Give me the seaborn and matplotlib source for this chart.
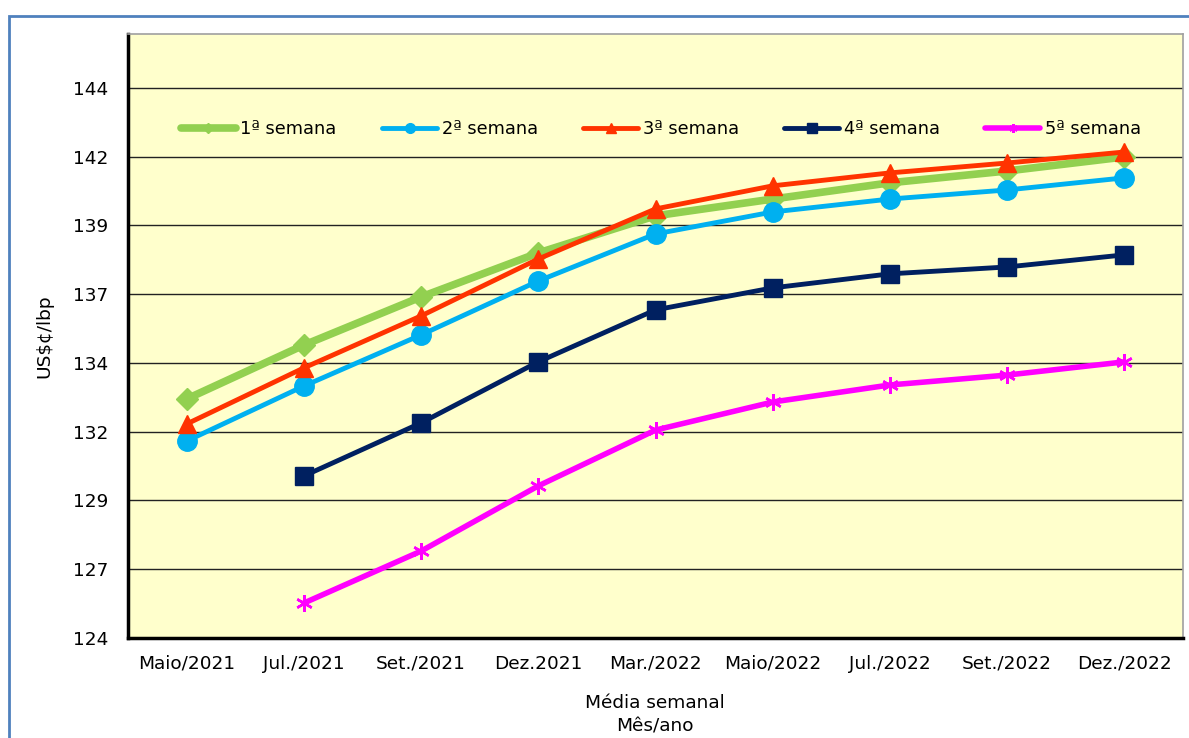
import numpy as np
import pandas as pd
import matplotlib.pyplot as plt
import seaborn as sns
from matplotlib.patches import Rectangle

# Data
months = ["Maio/2021", "Jul./2021", "Set./2021", "Dez.2021", "Mar./2022",
          "Maio/2022", "Jul./2022", "Set./2022", "Dez./2022"]
semana_1 = [133.09, 135.05, 136.80, 138.40, 139.75, 140.36, 140.95, 141.38, 141.89]
semana_2 = [131.56, 133.56, 135.42, 137.38, 139.09, 139.89, 140.36, 140.69, 141.13]
semana_3 = [132.18, 134.22, 136.11, 138.18, 140.00, 140.84, 141.31, 141.67, 142.07]
semana_4 = [np.nan, 130.29, 132.22, 134.44, 136.33, 137.13, 137.64, 137.89, 138.33]
semana_5 = [np.nan, 125.67, 127.56, 129.93, 131.96, 132.98, 133.60, 133.96, 134.44]
series_names = ["1ª semana", "2ª semana", "3ª semana", "4ª semana", "5ª semana"]
y_ticks = [124.4, 126.9, 129.4, 131.9, 134.4, 136.9, 139.4, 141.9, 144.4]
y_tick_labels = ["124", "127", "129", "132", "134", "137", "139", "142", "144"]

styles = {
    "1ª semana": dict(color="#92D050", marker="D", ms=11, lw=5.5),
    "2ª semana": dict(color="#00B0F0", marker="o", ms=14, lw=3.5),
    "3ª semana": dict(color="#FF3300", marker="^", ms=13, lw=3.5),
    "4ª semana": dict(color="#002060", marker="s", ms=13, lw=3.5),
    "5ª semana": dict(color="#FF00FF", marker=(6, 2, 0), ms=12, lw=4),
}


def build_frame():
    values = [semana_1, semana_2, semana_3, semana_4, semana_5]
    rows = []
    for name, vals in zip(series_names, values):
        for i, v in enumerate(vals):
            rows.append({"serie": name, "x": i, "valor": v})
    return pd.DataFrame(rows).dropna()


def plot_chart(df):
    sns.set_style("white")
    plt.rcParams['font.family'] = ['DejaVu Sans']
    plt.rcParams['text.color'] = 'black'
    plt.rcParams['axes.labelcolor'] = 'black'
    plt.rcParams['xtick.color'] = 'black'
    plt.rcParams['ytick.color'] = 'black'
    fig = plt.figure(figsize=(11.89, 7.38), dpi=100)
    ax = fig.add_axes([128 / 1189, 100 / 738, 1055 / 1189, 604 / 738])
    ax.set_facecolor("#FFFFCC")

    for name in series_names:
        st = styles[name]
        sub = df[df["serie"] == name]
        sns.lineplot(data=sub, x="x", y="valor", ax=ax, label=name,
                     color=st["color"], linewidth=st["lw"], marker=st["marker"],
                     markersize=st["ms"], markeredgecolor=st["color"],
                     markeredgewidth=1.8 if name == "5ª semana" else 1,
                     zorder=3)

    ax.set_xlim(-0.5, len(months) - 0.5)
    ax.set_ylim(124.4, 146.36)
    ax.set_xticks(range(len(months)))
    ax.set_xticklabels(months, fontsize=13.3)
    ax.set_xticks(np.arange(-0.5, len(months), 1.0), minor=True)
    ax.tick_params(axis="x", which="major", length=0, pad=12)
    ax.tick_params(axis="x", which="minor", direction="in", length=6, width=2, color="black")
    ax.set_yticks(y_ticks)
    ax.set_yticklabels(y_tick_labels, fontsize=13.3)
    ax.tick_params(axis="y", direction="in", length=6, width=2, color="black", pad=14)
    ax.yaxis.grid(True, color="#222222", linewidth=1)
    ax.xaxis.grid(False)

    for side in ["left", "bottom"]:
        ax.spines[side].set_color("black")
        ax.spines[side].set_linewidth(2.5)
    for side in ["top", "right"]:
        ax.spines[side].set_color("#A0A0A0")
        ax.spines[side].set_linewidth(1.2)

    ax.set_ylabel("US$¢/lbp", fontsize=13.3)
    ax.yaxis.set_label_coords(-0.071, 0.5)
    ax.set_xlabel("Média semanal\nMês/ano", fontsize=13.3, linespacing=1.4)
    ax.xaxis.set_label_coords(0.4995, -0.093)

    ax.legend(loc="center", bbox_to_anchor=(0.505, 0.843), ncol=5, frameon=False,
              fontsize=12.8, handlelength=3.1, handletextpad=0.25,
              columnspacing=2.55, markerscale=0.5)

    # blue outer frame
    fig.patches.append(Rectangle((9 / 1189, -0.05), 1.2, (738 - 16) / 738 + 0.05,
                                 transform=fig.transFigure, fill=False,
                                 edgecolor="#4F81BD", linewidth=2, zorder=0))
    fig.savefig("out.png", dpi=100)
    plt.close(fig)


if __name__ == "__main__":
    df = build_frame()
    plot_chart(df)
